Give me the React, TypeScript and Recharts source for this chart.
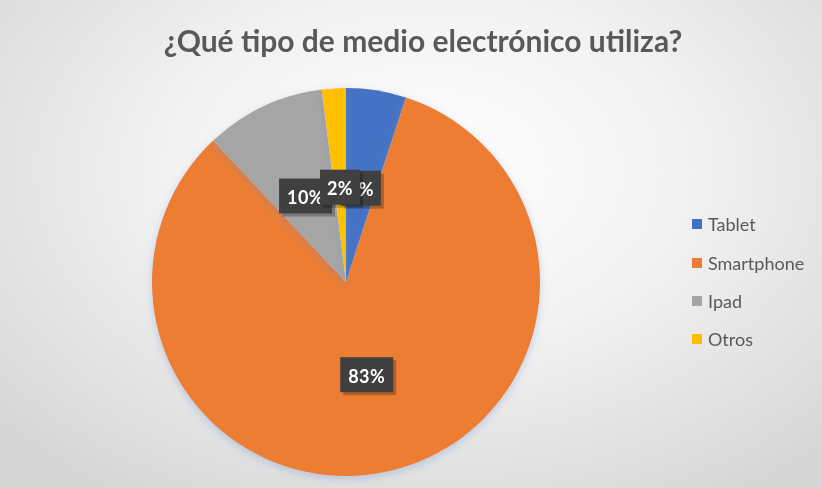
import React from "react";
import { PieChart, Pie, Cell, Legend } from "recharts";

const categories = ["Tablet", "Smartphone", "Ipad", "Otros"];
const values = [5, 83, 10, 2];
const colors = ["#4472C4", "#ED7D31", "#A5A5A5", "#FFC000"];
const title = "¿Qué tipo de medio electrónico utiliza?";

const data = categories.map((name, i) => ({ name, value: values[i] }));

const RAD = Math.PI / 180;

const renderLabel = (props: any) => {
  const { cx, cy, midAngle, percent } = props;
  const r = 95;
  const x = cx + r * Math.cos(-midAngle * RAD);
  const y = cy + r * Math.sin(-midAngle * RAD);
  const text = `${Math.round(percent * 100)}%`;
  const w = text.length * 13 + 14;
  const h = 35;
  return (
    <g>
      <rect x={x - w / 2 + 3} y={y - h / 2 + 3} width={w} height={h} fill="rgba(0,0,0,0.25)" />
      <rect x={x - w / 2} y={y - h / 2} width={w} height={h} fill="#404040" />
      <text
        x={x}
        y={y + 1}
        fill="#ffffff"
        textAnchor="middle"
        dominantBaseline="central"
        fontFamily="Lato, sans-serif"
        fontWeight={700}
        fontSize={18}
        letterSpacing={0.5}
      >
        {text}
      </text>
    </g>
  );
};

const renderLegend = () => (
  <div style={{ fontFamily: "Lato, sans-serif", fontSize: 18, color: "#595959" }}>
    {data.map((d, i) => (
      <div key={d.name} style={{ display: "flex", alignItems: "center", height: 38.4 }}>
        <span style={{ display: "inline-block", width: 10, height: 10, background: colors[i], marginRight: 6 }} />
        <span>{d.name}</span>
      </div>
    ))}
  </div>
);

export default function App() {
  return (
    <div
      style={{
        position: "fixed",
        left: 0,
        top: 0,
        width: 822,
        height: 488,
        background:
          "radial-gradient(ellipse 70% 80% at 52% 35%, #ffffff 0%, #f2f2f2 45%, #d6d6d6 100%)",
        overflow: "hidden",
      }}
    >
      <div
        style={{
          position: "absolute",
          left: 0,
          top: 22,
          width: 846,
          textAlign: "center",
          fontFamily: "Lato, sans-serif",
          fontWeight: 700,
          fontSize: 30,
          color: "#595959",
        }}
      >
        {title}
      </div>
      <PieChart width={822} height={488} margin={{ top: 0, right: 0, bottom: 0, left: 0 }}>
        <defs>
          <filter id="pieShadow" x="-20%" y="-20%" width="140%" height="140%">
            <feDropShadow dx="0" dy="3" stdDeviation="4" floodColor="#6a8fc8" floodOpacity="0.35" />
          </filter>
        </defs>
        <Pie
          data={data}
          dataKey="value"
          nameKey="name"
          cx={346}
          cy={282}
          outerRadius={194}
          startAngle={90}
          endAngle={-270}
          stroke="none"
          labelLine={false}
          label={renderLabel}
          isAnimationActive={false}
          style={{ filter: "url(#pieShadow)" }}
        >
          {data.map((d, i) => (
            <Cell key={d.name} fill={colors[i]} />
          ))}
        </Pie>
        <Legend
          layout="vertical"
          align="right"
          verticalAlign="top"
          content={renderLegend}
          wrapperStyle={{ left: 692, top: 205, width: 130 }}
        />
      </PieChart>
    </div>
  );
}
